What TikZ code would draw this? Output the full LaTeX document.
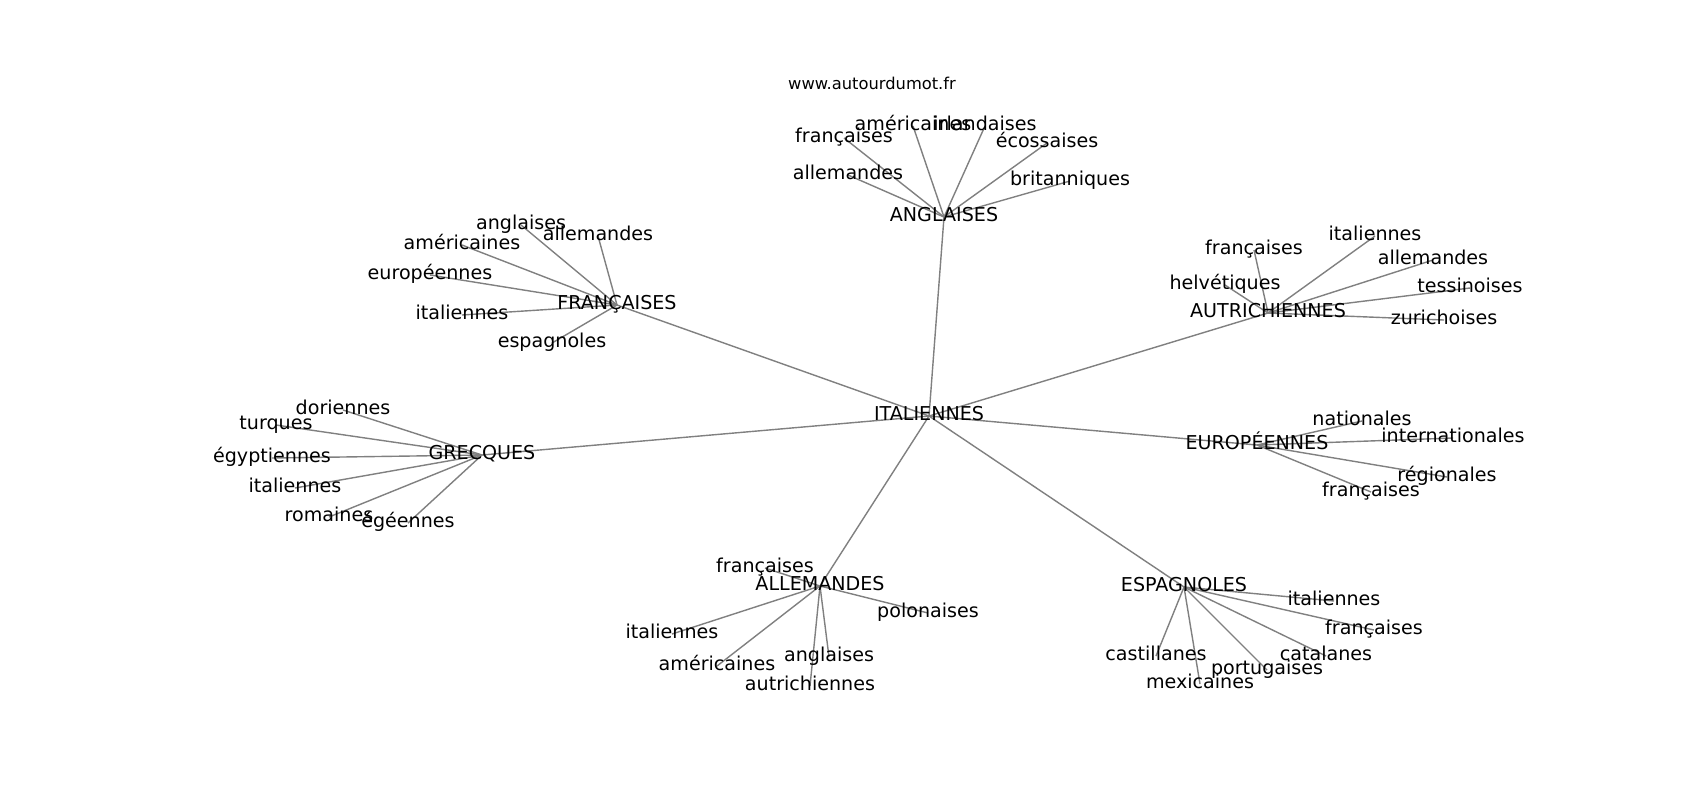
\documentclass[tikz,border=0pt]{standalone}
\usepackage{fontspec}
\setmainfont{DejaVu Sans}
\pgfdeclarelayer{background}
\pgfsetlayers{background,main}
\begin{document}
\begin{tikzpicture}[x=0.5pt,y=-0.5pt,
  lbl/.style={inner sep=0pt,font=\fontsize{9.55pt}{11pt}\selectfont,text height=0.7em,text depth=0.22em},
  ttl/.style={inner sep=0pt,font=\fontsize{8.15pt}{10pt}\selectfont},
  edge/.style={draw=gray,line width=0.7pt}]
\useasboundingbox (0,0) rectangle (1700,800);
\node[ttl] (title) at (872,83) {www.autourdumot.fr};
% hubs
\node[lbl] (IT) at (929,416) {ITALIENNES};
\node[lbl] (AN) at (944,217) {ANGLAISES};
\node[lbl] (FR) at (617,305) {FRANÇAISES};
\node[lbl] (AU) at (1268,313) {AUTRICHIENNES};
\node[lbl] (GR) at (482,455) {GRECQUES};
\node[lbl] (EU) at (1257,445) {EUROPÉENNES};
\node[lbl] (AL) at (820,586) {ALLEMANDES};
\node[lbl] (ES) at (1184,587) {ESPAGNOLES};
% ANGLAISES leaves
\node[lbl] (an1) at (844,138) {françaises};
\node[lbl] (an2) at (913,126) {américaines};
\node[lbl] (an3) at (985,126) {irlandaises};
\node[lbl] (an4) at (1047,143) {écossaises};
\node[lbl] (an5) at (848,175) {allemandes};
\node[lbl] (an6) at (1070,181) {britanniques};
% FRANÇAISES leaves
\node[lbl] (fr1) at (521,225) {anglaises};
\node[lbl] (fr2) at (598,236) {allemandes};
\node[lbl] (fr3) at (462,245) {américaines};
\node[lbl] (fr4) at (430,275) {européennes};
\node[lbl] (fr5) at (462,315) {italiennes};
\node[lbl] (fr6) at (552,343) {espagnoles};
% AUTRICHIENNES leaves
\node[lbl] (au1) at (1254,250) {françaises};
\node[lbl] (au2) at (1375,236) {italiennes};
\node[lbl] (au3) at (1433,260) {allemandes};
\node[lbl] (au4) at (1225,285) {helvétiques};
\node[lbl] (au5) at (1470,288) {tessinoises};
\node[lbl] (au6) at (1444,320) {zurichoises};
% GRECQUES leaves
\node[lbl] (gr1) at (343,410) {doriennes};
\node[lbl] (gr2) at (276,425) {turques};
\node[lbl] (gr3) at (272,458) {égyptiennes};
\node[lbl] (gr4) at (295,488) {italiennes};
\node[lbl] (gr5) at (329,517) {romaines};
\node[lbl] (gr6) at (408,523) {égéennes};
% EUROPÉENNES leaves
\node[lbl] (eu1) at (1362,421) {nationales};
\node[lbl] (eu2) at (1453,438) {internationales};
\node[lbl] (eu3) at (1447,477) {régionales};
\node[lbl] (eu4) at (1371,492) {françaises};
% ALLEMANDES leaves
\node[lbl] (al1) at (765,568) {françaises};
\node[lbl] (al2) at (928,613) {polonaises};
\node[lbl] (al3) at (672,634) {italiennes};
\node[lbl] (al4) at (717,666) {américaines};
\node[lbl] (al5) at (829,657) {anglaises};
\node[lbl] (al6) at (810,686) {autrichiennes};
% ESPAGNOLES leaves
\node[lbl] (es1) at (1334,601) {italiennes};
\node[lbl] (es2) at (1374,630) {françaises};
\node[lbl] (es3) at (1156,656) {castillanes};
\node[lbl] (es4) at (1326,656) {catalanes};
\node[lbl] (es5) at (1267,670) {portugaises};
\node[lbl] (es6) at (1200,684) {mexicaines};
\begin{pgfonlayer}{background}
\fill[white] (0,0) rectangle (1700,800);
\foreach \h in {AN,FR,AU,GR,EU,AL,ES}
  \draw[edge] (IT.center) -- (\h.center);
\foreach \i in {1,...,6} {
  \draw[edge] (AN.center) -- (an\i.center);
  \draw[edge] (FR.center) -- (fr\i.center);
  \draw[edge] (AU.center) -- (au\i.center);
  \draw[edge] (GR.center) -- (gr\i.center);
  \draw[edge] (AL.center) -- (al\i.center);
  \draw[edge] (ES.center) -- (es\i.center);
}
\foreach \i in {1,...,4}
  \draw[edge] (EU.center) -- (eu\i.center);
\end{pgfonlayer}
\end{tikzpicture}
\end{document}
